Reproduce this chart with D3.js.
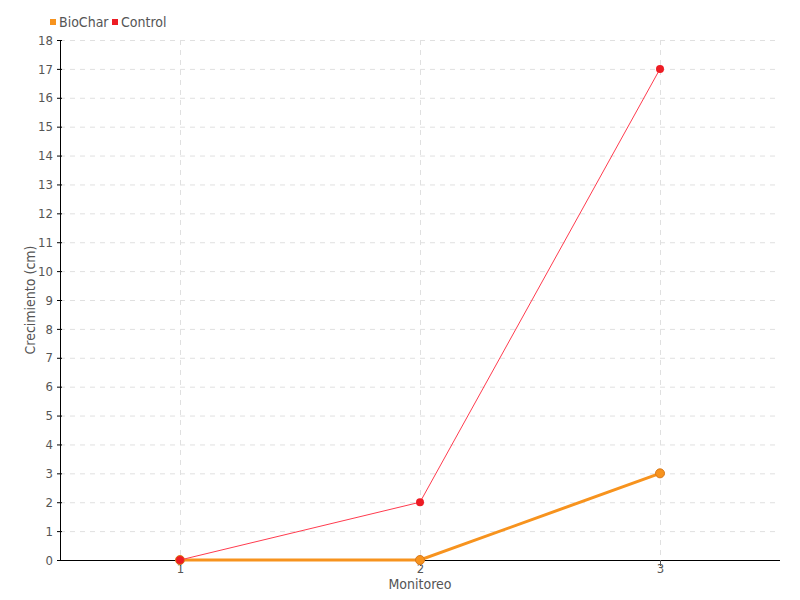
<!DOCTYPE html>
<html>
<head>
<meta charset="utf-8">
<script src="https://cdn.jsdelivr.net/npm/d3@7"></script>
<style>
  body { margin: 0; background: #fff; }
  text { font-family: "DejaVu Sans Condensed", "Liberation Sans Narrow", sans-serif; font-stretch: condensed; fill: #555; }
</style>
</head>
<body>
<svg></svg>
<script>
// data
const monitoreo = [1, 2, 3];
const biochar = [0, 0, 3];
const control = [0, 2, 17];
const yTicks = d3.range(0, 19);

const svgWidth = 800, svgHeight = 600;
const margin = {top: 40, right: 20, bottom: 40, left: 60};

const svg = d3.select('svg')
  .attr('width', svgWidth)
  .attr('height', svgHeight);

const x = d3.scalePoint()
  .domain(monitoreo)
  .range([margin.left, svgWidth - margin.right])
  .padding(0.5);

const y = d3.scaleLinear()
  .domain([0, 18])
  .range([svgHeight - margin.bottom, margin.top]);

// grid
svg.append('g').selectAll('line')
  .data(yTicks.slice(1))
  .enter().append('line')
  .attr('x1', margin.left).attr('x2', svgWidth - margin.right)
  .attr('y1', d => y(d) + 0.5).attr('y2', d => y(d) + 0.5)
  .attr('stroke', '#e0e0e0').attr('stroke-dasharray', '5,5');

svg.append('g').selectAll('line')
  .data(monitoreo)
  .enter().append('line')
  .attr('x1', d => x(d) + 0.5).attr('x2', d => x(d) + 0.5)
  .attr('y1', margin.top).attr('y2', y(0))
  .attr('stroke', '#e0e0e0').attr('stroke-dasharray', '5,5');

// axes
const yAxis = svg.append('g')
  .attr('transform', `translate(${margin.left},0)`)
  .call(d3.axisLeft(y).tickValues(yTicks).tickSize(3).tickPadding(4));
yAxis.select('.domain').attr('stroke', '#000');
yAxis.selectAll('.tick line').attr('x2', 2).attr('x1', -3).attr('stroke', '#000');
yAxis.selectAll('text').style('font-size', '13px').attr('fill', '#555');

const xAxis = svg.append('g')
  .attr('transform', `translate(0,${y(0)})`)
  .call(d3.axisBottom(x).tickSize(6).tickPadding(-2));
xAxis.select('.domain').attr('stroke', '#000').attr('d', `M${margin.left},0.5H${svgWidth - margin.right}`);
xAxis.selectAll('.tick line').attr('stroke', '#555');
xAxis.selectAll('text').style('font-size', '13px').attr('fill', '#555');

// axis titles
svg.append('text')
  .attr('x', x(2)).attr('y', 589)
  .attr('text-anchor', 'middle')
  .style('font-size', '14px')
  .text('Monitoreo');

svg.append('text')
  .attr('transform', `translate(35,${(margin.top + y(0)) / 2}) rotate(-90)`)
  .attr('text-anchor', 'middle')
  .style('font-size', '14px')
  .text('Crecimiento (cm)');

// lines
const line = d3.line()
  .x((d, i) => x(monitoreo[i]))
  .y(d => y(d));

svg.append('path')
  .datum(biochar)
  .attr('d', line)
  .attr('fill', 'none')
  .attr('stroke', '#f7931e')
  .attr('stroke-width', 3);

svg.append('g').selectAll('circle')
  .data(biochar)
  .enter().append('circle')
  .attr('cx', (d, i) => x(monitoreo[i]))
  .attr('cy', d => y(d))
  .attr('r', 4.5)
  .attr('fill', '#f7931e')
  .attr('stroke', '#d8781a')
  .attr('stroke-width', 1);

svg.append('path')
  .datum(control)
  .attr('d', line)
  .attr('fill', 'none')
  .attr('stroke', '#ff3b4e')
  .attr('stroke-width', 1);

svg.append('g').selectAll('circle')
  .data(control)
  .enter().append('circle')
  .attr('cx', (d, i) => x(monitoreo[i]))
  .attr('cy', d => y(d))
  .attr('r', 4)
  .attr('fill', '#ed1c24');

// legend
const legend = [
  {name: 'BioChar', color: '#f7931e', x: 50},
  {name: 'Control', color: '#ed1c24', x: 112}
];
const lg = svg.append('g').selectAll('g')
  .data(legend)
  .enter().append('g')
  .attr('transform', d => `translate(${d.x},0)`);
lg.append('rect')
  .attr('x', 0).attr('y', 19)
  .attr('width', 6).attr('height', 6)
  .attr('fill', d => d.color);
lg.append('text')
  .attr('x', 9).attr('y', 27)
  .style('font-size', '14px')
  .text(d => d.name);
</script>
</body>
</html>
